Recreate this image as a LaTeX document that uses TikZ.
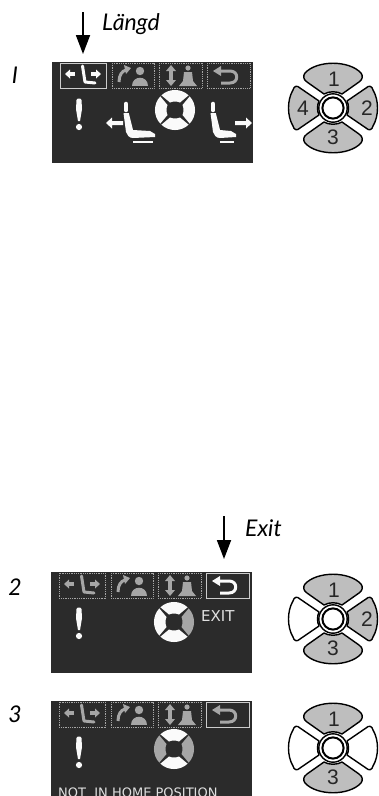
\documentclass[tikz,border=0pt]{standalone}
\usepackage{fontspec}
\setmainfont{Lato}
\setsansfont{Liberation Sans}
\newfontfamily\dispfont{DejaVu Sans}
\usetikzlibrary{arrows.meta}
\definecolor{panelbg}{HTML}{2B2B2B}
\definecolor{petal}{HTML}{BEBEBE}
\definecolor{dimink}{HTML}{A6A6A6}
\definecolor{brightink}{HTML}{FAFAFA}
\tikzset{
  x=1pt,y=-1pt,
  label/.style={font=\itshape\fontsize{23}{23}\selectfont,text=black,inner sep=0pt},
  num/.style={font=\sffamily\fontsize{21}{21}\selectfont,text=black!85,inner sep=0pt},
  disp/.style={font=\dispfont\fontsize{15}{15}\selectfont,text=white!88!black,inner sep=0pt,anchor=base west},
  dispsmall/.style={disp,font=\dispfont\fontsize{13}{13}\selectfont},
  callout/.style={line width=1.8pt,-{Triangle[length=19pt,width=14pt]}},
  pet/.style={draw=black,line width=1.4pt,line join=round},
  tabon/.style={draw=white!80!black,line width=1pt},
  taboff/.style={draw=dimink,line width=.9pt,dash pattern=on .9pt off .9pt},
  bright/.style={fill=brightink},
  dim/.style={fill=dimink},
}
% one quadrant of the dial, drawn pointing up, rotated by #1
\newcommand{\dialpart}[2]{%
  \fill[#2,rotate=#1] (-5,-7.5) -- (-13.6,-14.7) .. controls (-6,-21.8) and (6,-21.8) .. (13.6,-14.7) -- (5,-7.5) .. controls (2,-8.8) and (-2,-8.8) .. (-5,-7.5) -- cycle;}
\newcommand{\dial}[6]{% x y top right bottom left
  \begin{scope}[shift={(#1,#2)}]
  \dialpart{0}{#3}\dialpart{90}{#4}\dialpart{180}{#5}\dialpart{270}{#6}
  \end{scope}}
\newcommand{\bang}[2]{%
  \begin{scope}[shift={(#1,#2)}]
  \fill[brightink] (-2.5,1) .. controls (-2.5,-1) and (2.5,-1) .. (2.5,1) -- (3,10) -- (1,22) -- (-1,22) -- (-3,10) -- cycle;
  \fill[brightink] (0,28) circle (3.1);
  \end{scope}}
\newcommand{\seat}[3]{% x y cushion end
  \begin{scope}[shift={(#1,#2)}]
  \draw[brightink,line width=4.6pt,line cap=round] (0,-1) -- (0,5);
  \fill[brightink] (-2.5,8) -- (2.8,8) -- (7,25) -- (#3-5,26) -- (#3,29) -- (#3,32) -- (7,33) .. controls (3,33) and (1,30) .. (0,27) -- cycle;
  \draw[brightink,line width=2.4pt] (7,37) -- (#3-2,37);
  \end{scope}}
\newcommand{\bigarrowL}[2]{\fill[brightink] (#1,#2) -- ++(6,-5.5) -- ++(0,3.5) -- ++(11,0) -- ++(0,4) -- ++(-11,0) -- ++(0,3.5) -- cycle;}
\newcommand{\bigarrowR}[2]{\fill[brightink] (#1,#2) -- ++(-6,-5.5) -- ++(0,3.5) -- ++(-11,0) -- ++(0,4) -- ++(11,0) -- ++(0,3.5) -- cycle;}
\newcommand{\tabicons}[4]{% colours for the four tabs
  % tab 1
  \fill[#1] (13,12) -- (18,7.5) -- (18,16.5) -- cycle; \fill[#1] (17,10) rectangle (23,14);
  \fill[#1] (49,12) -- (44,7.5) -- (44,16.5) -- cycle; \fill[#1] (39,10) rectangle (45,14);
  \draw[#1,line width=3pt,line join=round,line cap=round] (30.5,4) -- (33,20) -- (43,21);
  % tab 2
  \draw[#2,line width=3pt] (67,20) .. controls (67,13) and (70,9) .. (74,8);
  \fill[#2] (79,6) -- (72,3) -- (74,12) -- cycle;
  \fill[#2] (88,9) circle (4.2);
  \fill[#2] (80,24) .. controls (80,13) and (96,13) .. (96,24) -- cycle;
  % tab 3
  \fill[#3] (119,3) -- (124,9) -- (114,9) -- cycle;
  \fill[#3] (119,24) -- (124,18) -- (114,18) -- cycle;
  \fill[#3] (117,8) rectangle (121,19);
  \fill[#3] (136,6) circle (2.6);
  \fill[#3] (132,10) -- (140,10) -- (141,19) -- (145,24) -- (127,24) -- (131,19) -- cycle;
  % tab 4
  \draw[#4,line width=3pt,line join=round] (167,9) -- (178,9) .. controls (187,9) and (187,21) .. (178,21) -- (169,21);
  \fill[#4] (161,9) -- (169,4) -- (169,14) -- cycle;}
\newcommand{\tabboxes}[4]{%
  \draw[#1] (8,1) rectangle (54,26);
  \draw[#2] (60,1) rectangle (102,26);
  \draw[#3] (107,1) rectangle (150,26);
  \draw[#4] (155,1) rectangle (198,26);}
% button: x y fills top right bottom left
\newcommand{\btn}[6]{%
  \begin{scope}[shift={(#1,#2)}]
  \path[pet,fill=#3] (-9,-14) -- (-26,-26) .. controls (-30,-29) and (-30,-32) .. (-28,-35) .. controls (-16,-48) and (16,-48) .. (28,-35) .. controls (30,-32) and (30,-29) .. (26,-26) -- (9,-14) .. controls (4,-17) and (-4,-17) .. (-9,-14) -- cycle;
  \path[pet,fill=#5] (-9,14) -- (-26,26) .. controls (-30,29) and (-30,32) .. (-28,35) .. controls (-16,48) and (16,48) .. (28,35) .. controls (30,32) and (30,29) .. (26,26) -- (9,14) .. controls (4,17) and (-4,17) .. (-9,14) -- cycle;
  \path[pet,fill=#4] (14,-7) -- (33,-20) .. controls (36,-23) and (39,-22) .. (40,-18) .. controls (46,-8) and (46,8) .. (40,18) .. controls (39,22) and (36,23) .. (33,20) -- (14,7) .. controls (16,3) and (16,-3) .. (14,-7) -- cycle;
  \path[pet,fill=#6] (-14,-7) -- (-33,-20) .. controls (-36,-23) and (-39,-22) .. (-40,-18) .. controls (-46,-8) and (-46,8) .. (-40,18) .. controls (-39,22) and (-36,23) .. (-33,20) -- (-14,7) .. controls (-16,3) and (-16,-3) .. (-14,-7) -- cycle;
  \draw[black,line width=1.4pt,fill=white] (0,0) circle (14.2);
  \draw[black,line width=2pt,fill=white] (0,0) circle (10.6);
  \end{scope}}
\begin{document}
\begin{tikzpicture}
\useasboundingbox (0,0) rectangle (379,796);
\fill[white] (0,0) rectangle (379,796);

% Labels and callouts
\node[label,anchor=west] (langd) at (102,24) {Längd};
\coordinate (a1) at (83,12);
\coordinate (a1e) at (83,54);
\draw[callout] (a1) -- (a1e);
\node[label,anchor=west] (exit) at (245,528) {Exit};
\coordinate (a2) at (224,516);
\coordinate (a2e) at (224,559);
\draw[callout] (a2) -- (a2e);
\node[label] (n1) at (15,75) {I};
\node[label] (n2) at (15,587) {2};
\node[label] (n3) at (15,714) {3};

% Panel 1
\begin{scope}[shift={(52,62)}]
  \fill[panelbg] (0,0) rectangle (201,101);
  \tabboxes{tabon}{taboff}{taboff}{taboff}
  \tabicons{brightink}{dimink}{dimink}{dimink}
  \bang{27}{37}
  \seat{74}{43}{29}
  \bigarrowL{54}{61}
  \dial{123}{48}{bright}{bright}{bright}{bright}
  \seat{161}{43}{23}
  \bigarrowR{200}{61}
\end{scope}

% Panel 2
\begin{scope}[shift={(51,572)}]
  \fill[panelbg] (0,0) rectangle (201,101);
  \tabboxes{taboff}{taboff}{taboff}{tabon}
  \tabicons{dimink}{dimink}{dimink}{brightink}
  \bang{28}{36}
  \dial{123}{50}{bright}{bright}{bright}{dim}
  \node[disp] (tx1) at (150,49) {EXIT};
\end{scope}

% Panel 3
\begin{scope}[shift={(51,701)}]
  \fill[panelbg] (0,0) rectangle (201,95);
  \begin{scope}
  \clip (0,0) rectangle (201,95);
  \tabboxes{taboff}{taboff}{taboff}{tabon}
  \tabicons{dimink}{dimink}{dimink}{dimink}
  \bang{28}{36}
  \dial{123}{48}{bright}{dim}{bright}{dim}
  \node[dispsmall] (tx2) at (7,96) {NOT\ \ IN HOME POSITION};
  \end{scope}
\end{scope}

% Buttons
\btn{333}{108}{petal}{petal}{petal}{petal}
\node[num] (b11) at (334,79) {1};
\node[num] (b12) at (367,108) {2};
\node[num] (b13) at (333,137) {3};
\node[num] (b14) at (303,108) {4};
\btn{333}{619}{petal}{petal}{petal}{white}
\node[num] (b21) at (334,590) {1};
\node[num] (b22) at (367,619) {2};
\node[num] (b23) at (333,648) {3};
\btn{333}{748}{petal}{white}{petal}{white}
\node[num] (b31) at (334,719) {1};
\node[num] (b33) at (333,777) {3};
\end{tikzpicture}
\end{document}
